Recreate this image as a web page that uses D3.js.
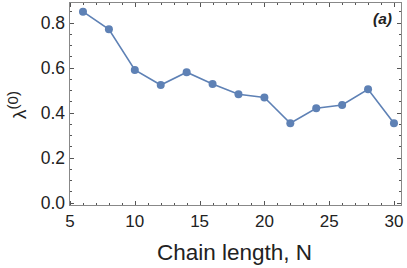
<!DOCTYPE html>
<html><head><meta charset="utf-8">
<script src="https://cdn.jsdelivr.net/npm/d3@7"></script>
<style>body{margin:0;background:#fff}svg{display:block}text{font-family:"Liberation Sans",Arial,sans-serif}</style>
</head><body>
<script>
const chainLength = [6, 8, 10, 12, 14, 16, 18, 20, 22, 24, 26, 28, 30];
const lambda0 = [0.849, 0.771, 0.590, 0.523, 0.580, 0.528, 0.482, 0.468, 0.353, 0.420, 0.434, 0.504, 0.353];
const xTicks = [5, 10, 15, 20, 25, 30];
const yTicks = [0.0, 0.2, 0.4, 0.6, 0.8];

const W = 407, H = 268;
const L = 69, R = 402, T = 2, B = 206;
const svg = d3.select("body").append("svg").attr("width", W).attr("height", H);
const x = d3.scaleLinear().domain([4.92, 30.62]).range([L, R]);
const y = d3.scaleLinear().domain([-0.0147, 0.892]).range([B, T]);
const col = "#5E81B5", frame = "#888";

const g = svg.append("g");
const xMinor = d3.range(5, 31, 1), yMinor = d3.range(0, 0.9, 0.05);
function tick(x1, y1, x2, y2){ g.append("line").attr("x1",x1).attr("y1",y1).attr("x2",x2).attr("y2",y2).attr("stroke","#555").attr("stroke-width",1); }
xMinor.forEach(v => {
  const major = xTicks.includes(v), len = major ? 5 : 3, px = Math.round(x(v)) + 0.5;
  tick(px, B, px, B - len); tick(px, T, px, T + len);
});
yMinor.forEach(v0 => {
  const v = Math.round(v0 * 100) / 100;
  const major = yTicks.some(t => Math.abs(t - v) < 1e-6), len = major ? 5 : 3, py = Math.round(y(v)) + 0.5;
  tick(L, py, L + len, py); tick(R, py, R - len, py);
});
g.append("rect").attr("x", L + 0.5).attr("y", T + 0.5).attr("width", R - L - 1).attr("height", B - T - 1)
  .attr("fill", "none").attr("stroke", frame).attr("stroke-width", 1);

xTicks.forEach(v => svg.append("text").attr("x", x(v)).attr("y", 227).attr("text-anchor", "middle")
  .attr("font-size", 17).attr("fill", "#222").text(v));
yTicks.forEach(v => svg.append("text").attr("x", L - 4).attr("y", y(v) + 6).attr("text-anchor", "end")
  .attr("font-size", 17.5).attr("fill", "#222").text(v.toFixed(1)));

svg.append("text").attr("x", 234.5).attr("y", 260).attr("text-anchor", "middle")
  .attr("font-size", 22.5).attr("fill", "#222").text("Chain length, N");
const yl = svg.append("text").attr("transform", `translate(26,${105}) rotate(-90)`).attr("text-anchor", "middle")
  .attr("font-size", 19).attr("fill", "#222");
yl.append("tspan").text("λ");
yl.append("tspan").attr("dy", -8).attr("font-size", 15).text("(0)");

svg.append("text").attr("x", 392).attr("y", 24).attr("text-anchor", "end").attr("font-size", 15.5)
  .attr("font-weight", "bold").attr("font-style", "italic").attr("fill", "#222").text("(a)");

const data = chainLength.map((n, i) => [n, lambda0[i]]);
svg.append("path").datum(data).attr("fill", "none").attr("stroke", col).attr("stroke-width", 1.6)
  .attr("d", d3.line().x(d => x(d[0])).y(d => y(d[1])));
svg.selectAll("circle.pt").data(data).enter().append("circle").attr("class", "pt")
  .attr("cx", d => x(d[0])).attr("cy", d => y(d[1])).attr("r", 4).attr("fill", col);
</script>
</body></html>
